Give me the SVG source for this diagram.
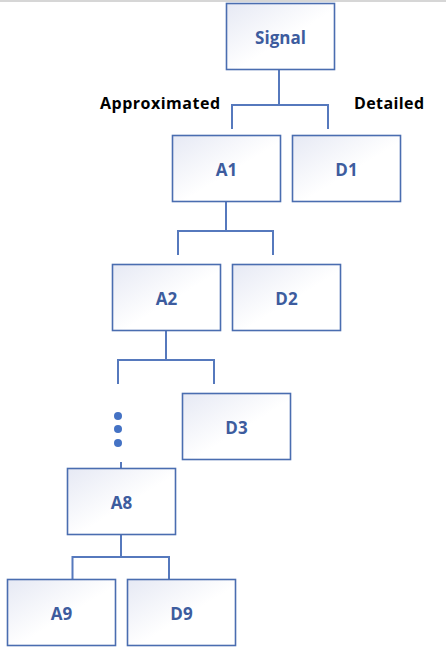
<svg xmlns="http://www.w3.org/2000/svg" width="446" height="663" viewBox="0 0 446 663">
<defs>
<linearGradient id="g" x1="0" y1="0" x2="1" y2="1">
<stop offset="0" stop-color="#e6e9f4"/>
<stop offset="0.55" stop-color="#ffffff"/>
<stop offset="1" stop-color="#ffffff"/>
</linearGradient>
<style>
.box{fill:url(#g);stroke:#4a6db0;stroke-width:1.6}
.lbl{font-family:"Open Sans","Liberation Sans",sans-serif;font-weight:bold;font-size:17px;fill:#3d5c9e;text-anchor:middle;dominant-baseline:central}
.side{font-family:"Open Sans","Liberation Sans",sans-serif;font-weight:bold;font-size:16px;fill:#000}
.con{fill:none;stroke:#5679bd;stroke-width:2}
.dot{fill:#4472c4}
</style>
</defs>
<rect width="446" height="663" fill="#fff"/>
<line x1="0" y1="1" x2="446" y2="1" stroke="#c8c8c8" stroke-width="1.5"/>
<g id="connectors">
<path class="con" d="M279 69V105M232 129V105H328V129"/>
<path class="con" d="M226 201V231M178 255V231H273V255"/>
<path class="con" d="M166 330V360M118 384V360H214V384"/>
<path class="con" d="M121 462V468"/>
<path class="con" d="M121 534V557M72.5 579V557H169V579"/>
</g>
<g id="labels">
<text class="side" x="100" y="109" textLength="120">Approximated</text>
<text class="side" x="354" y="109" textLength="70">Detailed</text>
</g>
<g id="signal"><rect class="box" x="226.5" y="3.5" width="108" height="66"/><text class="lbl" x="280.5" y="37">Signal</text></g>
<g id="a1"><rect class="box" x="172.5" y="135.5" width="108" height="66"/><text class="lbl" x="226.5" y="169">A1</text></g>
<g id="d1"><rect class="box" x="292.5" y="135.5" width="108" height="66"/><text class="lbl" x="346.5" y="169">D1</text></g>
<g id="a2"><rect class="box" x="112.5" y="264.5" width="108" height="66"/><text class="lbl" x="166.5" y="298">A2</text></g>
<g id="d2"><rect class="box" x="232.5" y="264.5" width="108" height="66"/><text class="lbl" x="286.5" y="298">D2</text></g>
<g id="ellipsis"><circle class="dot" cx="118" cy="416" r="4"/><circle class="dot" cx="118" cy="429" r="4"/><circle class="dot" cx="118" cy="443" r="4"/></g>
<g id="d3"><rect class="box" x="182.5" y="393.5" width="108" height="66"/><text class="lbl" x="236.5" y="427">D3</text></g>
<g id="a8"><rect class="box" x="67.5" y="468.5" width="108" height="66"/><text class="lbl" x="121.5" y="502">A8</text></g>
<g id="a9"><rect class="box" x="7.5" y="579.5" width="108" height="66"/><text class="lbl" x="61.5" y="613">A9</text></g>
<g id="d9"><rect class="box" x="127.5" y="579.5" width="108" height="66"/><text class="lbl" x="181.5" y="613">D9</text></g>
</svg>
